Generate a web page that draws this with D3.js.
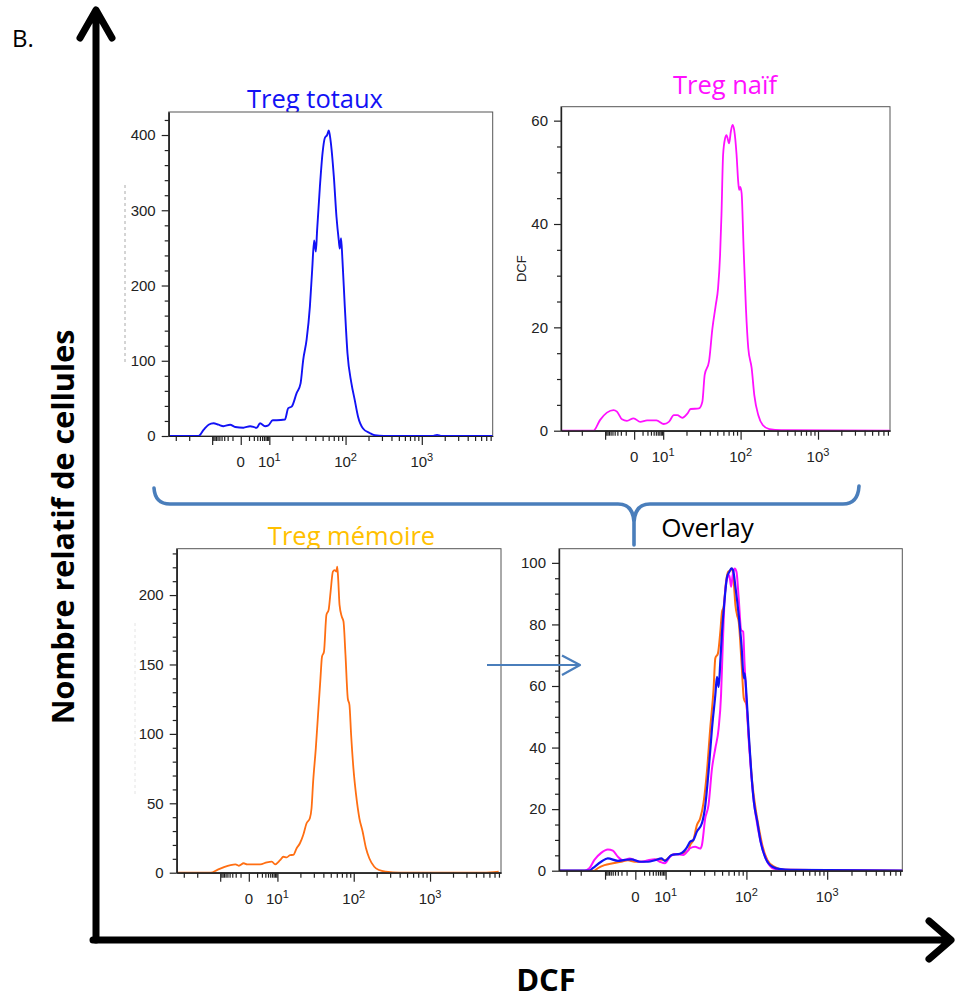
<!DOCTYPE html>
<html><head><meta charset="utf-8">
<script src="https://cdn.jsdelivr.net/npm/d3@7"></script>
<style>body{margin:0;background:#fff}svg{display:block}</style>
</head><body>
<svg id="c" width="956" height="999"></svg>
<script>
// ---------- DATA (x = position on biexponential display, in decades; y = cell count) ----------
const totaux = [[-0.32,0],[0.072,0],[0.137,8],[0.203,15],[0.268,17],[0.333,15],[0.399,13],[0.486,15],[0.552,12],[0.660,11],[0.748,13],[0.835,11],[0.878,17],[0.944,13],[0.987,14],[1.044,21],[1.097,21],[1.205,22],[1.248,37],[1.293,39],[1.358,57],[1.410,70],[1.444,101],[1.489,128],[1.532,172],[1.562,221],[1.588,260],[1.610,245],[1.627,274],[1.663,331],[1.698,376],[1.728,396],[1.758,400],[1.780,406],[1.803,393],[1.846,345],[1.881,291],[1.911,260],[1.924,249],[1.941,263],[1.959,234],[1.990,172],[2.025,110],[2.077,70],[2.120,48],[2.163,26],[2.229,10],[2.316,4],[2.382,1],[2.50,0],[3.15,0],[3.20,1.5],[3.25,0],[3.93,0]];

const naif = [[-0.32,0],[0.099,0],[0.186,2.1],[0.273,3.5],[0.358,4.0],[0.403,3.7],[0.468,2.2],[0.532,1.9],[0.618,2.4],[0.705,1.7],[0.792,2.0],[0.913,2.0],[1.008,1.3],[1.073,1.7],[1.138,3.0],[1.182,3.0],[1.247,2.5],[1.312,3.3],[1.355,4.2],[1.462,4.3],[1.506,5.6],[1.536,10.8],[1.592,13.4],[1.636,19.8],[1.679,24.3],[1.709,27.6],[1.735,34.0],[1.753,41.8],[1.774,53.4],[1.800,56.6],[1.818,57.2],[1.852,55.6],[1.874,57.9],[1.896,59.2],[1.917,58.2],[1.948,53.4],[1.969,48.2],[1.982,46.6],[1.995,47.2],[2.013,46.0],[2.039,35.3],[2.069,23.7],[2.099,16.0],[2.143,12.1],[2.177,6.9],[2.229,3.0],[2.286,1.1],[2.371,0.3],[2.523,0.1],[3.95,0]];

const memoire = [[-0.31,0],[0.126,0],[0.213,2],[0.299,4],[0.386,5.5],[0.451,6],[0.494,5],[0.558,6.8],[0.603,6],[0.775,6],[0.862,7.5],[0.927,8],[0.970,6],[1.035,9],[1.078,11.5],[1.122,11],[1.165,12.7],[1.208,12.8],[1.252,17.6],[1.295,21.2],[1.338,27.2],[1.382,35.6],[1.425,39.2],[1.447,46.4],[1.468,65.6],[1.503,89.6],[1.532,113.6],[1.564,140],[1.584,155.6],[1.610,159.2],[1.642,185.7],[1.671,189.3],[1.697,202.5],[1.727,216.9],[1.749,218],[1.771,216.9],[1.784,220.5],[1.797,210.9],[1.814,192.9],[1.844,184.4],[1.866,180.8],[1.892,156.8],[1.922,125.6],[1.944,120.8],[1.966,99.2],[1.996,75.2],[2.031,56],[2.074,39.2],[2.117,29.5],[2.161,17.6],[2.204,10.4],[2.269,4.3],[2.334,1.9],[2.421,0.7],[2.6,0],[3.7,0],[3.9,0.8]];

const overlayTotaux = [[-0.33,0],[0.056,0],[0.097,0.8],[0.202,2.9],[0.284,4.0],[0.409,3.2],[0.493,3.5],[0.576,3.7],[0.680,2.9],[0.783,2.9],[0.867,3.4],[0.950,4.0],[0.991,3.2],[1.075,5.1],[1.178,5.5],[1.262,7.5],[1.303,9.4],[1.344,10],[1.387,12.7],[1.449,15.4],[1.490,21],[1.531,32.1],[1.574,46.2],[1.615,57],[1.636,63],[1.656,59.7],[1.677,67.9],[1.698,77.6],[1.731,88.4],[1.761,95.5],[1.789,97.1],[1.814,98.2],[1.835,97.6],[1.864,92.2],[1.905,83],[1.939,73.3],[1.968,62.5],[1.980,64.1],[2.001,57],[2.030,44],[2.060,32.1],[2.092,22.4],[2.135,15.9],[2.176,9.4],[2.238,4],[2.322,1.3],[2.425,0.5],[2.55,0.3],[3.95,0]];

const overlayMemoire = [[-0.33,0],[0.118,0],[0.160,0.8],[0.243,1.8],[0.347,2.4],[0.451,2.9],[0.534,3.4],[0.617,2.9],[0.701,2.9],[0.825,3.4],[0.908,3.7],[0.991,3.4],[1.075,5.1],[1.200,5.6],[1.282,6.7],[1.303,8.3],[1.344,10],[1.387,14.8],[1.428,17],[1.469,22],[1.511,32.1],[1.552,46.2],[1.594,59.2],[1.615,69],[1.648,70.6],[1.677,77.6],[1.698,84.1],[1.718,85.7],[1.748,93.8],[1.773,97.1],[1.802,97.6],[1.823,98.2],[1.843,93.8],[1.864,86.3],[1.885,83],[1.905,80.8],[1.939,67.9],[1.968,56],[2.001,53.8],[2.030,43],[2.072,28.9],[2.113,20.3],[2.155,13.8],[2.197,8.3],[2.259,3.5],[2.342,1.3],[2.466,0.3],[3.95,0]];

const overlayNaif = [[-0.33,0],[0.0,0],[0.056,0.8],[0.118,3.5],[0.202,5.8],[0.284,6.9],[0.347,6.5],[0.409,4.5],[0.471,3.4],[0.555,4],[0.617,3.4],[0.701,2.9],[0.783,3.4],[0.867,3.7],[0.929,2.9],[0.991,2.4],[1.054,4.5],[1.116,5.4],[1.219,5.1],[1.282,6.7],[1.303,7.3],[1.365,7.8],[1.428,7.2],[1.449,8.3],[1.490,17],[1.531,21.3],[1.574,33.2],[1.615,39.7],[1.656,46.2],[1.686,57],[1.706,72.2],[1.731,88.4],[1.761,94.9],[1.789,96],[1.810,92.2],[1.830,96],[1.855,98.2],[1.877,97.1],[1.905,88.4],[1.935,78.2],[1.960,77.6],[1.976,67.9],[2.001,54.9],[2.030,41.9],[2.060,31.1],[2.092,22.4],[2.142,13.8],[2.197,7.3],[2.259,2.9],[2.342,0.6],[2.425,0.3],[3.95,0]];

// axis tick values (fluorescence intensity, DCF)
const xDomain = [-0.32, 3.93];
const xLabelVals = [0, 10, 100, 1000];
const xLabelBase = ["0", "10", "10", "10"];
const xLabelExp = ["", "1", "2", "3"];
const xMajorVals = [-10, 0, 10, 100, 1000];
const xMinorVals = [-30,-20,-9,-8,-7,-6,-5,-4,-3,-2,-1,1,2,3,4,5,6,7,8,9,20,30,40,50,60,70,80,90,200,300,400,500,600,700,800,900,2000,3000,4000,5000,6000,7000,8000];

const titles = ["Treg totaux", "Treg naïf", "Treg mémoire", "Overlay"];
const yMajors = [[0,100,200,300,400],[0,20,40,60],[0,50,100,150,200],[0,20,40,60,80,100]];
const yMaxes = [430.6, 62.7, 233.4, 104.6];
const yMinorSteps = [20, 5, 10, 5];

// biexponential-like display transform (value -> decades)
function biex(v){
  if (v >= 10) return Math.log10(v);
  if (v <= -10) return 1.25 - Math.log10(-v);
  return 0.625 + 0.375*Math.sign(v)*Math.log10(1+Math.abs(v))/Math.log10(11);
}

// ---------- LAYOUT ----------
const C = {blue:"#1212f5", magenta:"#ff10ff", orange:"#ff6e12", gold:"#ffc000", brace:"#4a7ebb"};
const layout = [
  {x0:168.7, x1:492.7, y0:112, y1:436, tx:315, ty:108, tc:C.blue,
   series:[{d:totaux, c:C.blue, w:1.9}]},
  {x0:561, x1:890, y0:106.7, y1:430.7, tx:725, ty:94, tc:C.magenta,
   series:[{d:naif, c:C.magenta, w:1.8}], ylab:"DCF"},
  {x0:176.7, x1:501, y0:548.7, y1:872.7, tx:351.5, ty:545, tc:C.gold,
   series:[{d:memoire, c:C.orange, w:1.8}]},
  {x0:559, x1:902.3, y0:548.7, y1:870.7, tx:707.5, ty:537, tc:"#000",
   series:[{d:overlayMemoire, c:C.orange, w:2},{d:overlayNaif, c:C.magenta, w:2},{d:overlayTotaux, c:C.blue, w:2.2}]}
];

const svg = d3.select("#c");

layout.forEach((p, i) => {
  const g = svg.append("g");
  const x = d3.scaleLinear().domain(xDomain).range([p.x0, p.x1]);
  const y = d3.scaleLinear().domain([0, yMaxes[i]]).range([p.y1, p.y0]);

  g.append("text").attr("x", p.tx).attr("y", p.ty).attr("text-anchor", "middle")
    .attr("fill", p.tc).style("font-family", "'Open Sans', sans-serif").style("font-size", i === 3 ? "26px" : "25.5px")
    .text(titles[i]);

  g.append("rect").attr("x", p.x0).attr("y", p.y0).attr("width", p.x1 - p.x0).attr("height", p.y1 - p.y0)
    .attr("fill", "#fff").attr("stroke", "#555").attr("stroke-width", 1);

  const cid = "clip" + i;
  svg.append("defs").append("clipPath").attr("id", cid).append("rect")
    .attr("x", p.x0).attr("y", p.y0 - 2).attr("width", p.x1 - p.x0).attr("height", p.y1 - p.y0 + 2);

  const line = d3.line().x(d => x(d[0])).y(d => y(d[1])).curve(d3.curveMonotoneX);
  const cg = g.append("g").attr("clip-path", `url(#${cid})`);
  p.series.forEach(s => {
    cg.append("path").datum(s.d).attr("d", line).attr("fill", "none")
      .attr("stroke", s.c).attr("stroke-width", s.w).attr("stroke-linejoin", "round");
  });

  // Y axis
  const yMinor = d3.range(0, yMaxes[i], yMinorSteps[i]).filter(v => !yMajors[i].includes(v));
  const ya = g.append("g").attr("transform", `translate(${p.x0},0)`);
  ya.append("g").call(d3.axisLeft(y).tickValues(yMinor).tickSize(4).tickSizeOuter(0).tickFormat(""));
  ya.append("g").call(d3.axisLeft(y).tickValues(yMajors[i]).tickSize(7).tickSizeOuter(0).tickPadding(6))
    .attr("font-size", 15).attr("font-family", "'Liberation Sans', Arial, sans-serif");
  ya.selectAll("path,line").attr("stroke", "#222").attr("stroke-width", 1.2);
  ya.selectAll("text").attr("fill", "#222");

  // X axis
  const inDom = v => { const t = biex(v); return t >= xDomain[0] && t <= xDomain[1]; };
  const xa = g.append("g").attr("transform", `translate(0,${p.y1})`);
  xa.append("g").call(d3.axisBottom(x).tickValues(xMinorVals.filter(inDom).map(biex)).tickSize(5).tickSizeOuter(0).tickFormat(""));
  xa.append("g").call(d3.axisBottom(x).tickValues(xMajorVals.map(biex)).tickSize(9).tickSizeOuter(0).tickFormat(""));
  xa.selectAll("path,line").attr("stroke", "#222").attr("stroke-width", 1.2);

  xLabelVals.forEach((v, k) => {
    const t = g.append("text").attr("x", x(biex(v))).attr("y", p.y1 + 31).attr("text-anchor", "middle")
      .attr("fill", "#222").style("font-family", "'Liberation Sans', Arial, sans-serif").style("font-size", "15px");
    t.append("tspan").text(xLabelBase[k]);
    if (xLabelExp[k]) t.append("tspan").attr("dy", -6).style("font-size", "11px").text(xLabelExp[k]);
  });

  if (p.ylab) {
    g.append("text").attr("transform", `translate(${p.x0 - 35},${(p.y0 + p.y1) / 2}) rotate(-90)`)
      .attr("text-anchor", "middle").attr("fill", "#222")
      .style("font-family", "'Liberation Sans', Arial, sans-serif").style("font-size", "13px").text(p.ylab);
  }
});

// faint remnants of cropped axis labels
svg.append("line").attr("x1", 125).attr("x2", 125).attr("y1", 185).attr("y2", 362)
  .attr("stroke", "#aaa").attr("stroke-width", 1).attr("stroke-dasharray", "3,3");
svg.append("line").attr("x1", 135).attr("x2", 135).attr("y1", 623).attr("y2", 797)
  .attr("stroke", "#e4e4e4").attr("stroke-width", 1).attr("stroke-dasharray", "3,3");

// brace
svg.append("path")
  .attr("d", "M154,488 Q155,504 170,504 L618,504 Q633,504 634,522 L634,545 M634,522 Q635,504 650,504 L843,504 Q858,504 859,486")
  .attr("fill", "none").attr("stroke", C.brace).attr("stroke-width", 3.6).attr("stroke-linecap", "round");

// small arrow into overlay
svg.append("path").attr("d", "M487,665 L579,665 M562,655.5 L580,665 L562,675")
  .attr("fill", "none").attr("stroke", C.brace).attr("stroke-width", 2.2).attr("stroke-linejoin", "round");

// big axes arrows
svg.append("path").attr("d", "M96,940 L96,12 M80,38 L96,10 L112,38")
  .attr("fill", "none").attr("stroke", "#000").attr("stroke-width", 7).attr("stroke-linecap", "round").attr("stroke-linejoin", "round");
svg.append("path").attr("d", "M93,940 L949,940 M929,921 L951,940 L929,959")
  .attr("fill", "none").attr("stroke", "#000").attr("stroke-width", 7).attr("stroke-linecap", "round").attr("stroke-linejoin", "round");

svg.append("text").attr("x", 12).attr("y", 47).style("font-family", "'Open Sans', sans-serif").style("font-size", "24px").text("B.");

svg.append("text").attr("transform", "translate(74,527) rotate(-90)").attr("text-anchor", "middle")
  .style("font-family", "'Open Sans', sans-serif").style("font-size", "30.5px").style("font-weight", "bold")
  .text("Nombre relatif de cellules");

svg.append("text").attr("x", 546).attr("y", 991).attr("text-anchor", "middle")
  .style("font-family", "'Open Sans', sans-serif").style("font-size", "31px").style("font-weight", "bold")
  .text("DCF");
</script>
</body></html>
